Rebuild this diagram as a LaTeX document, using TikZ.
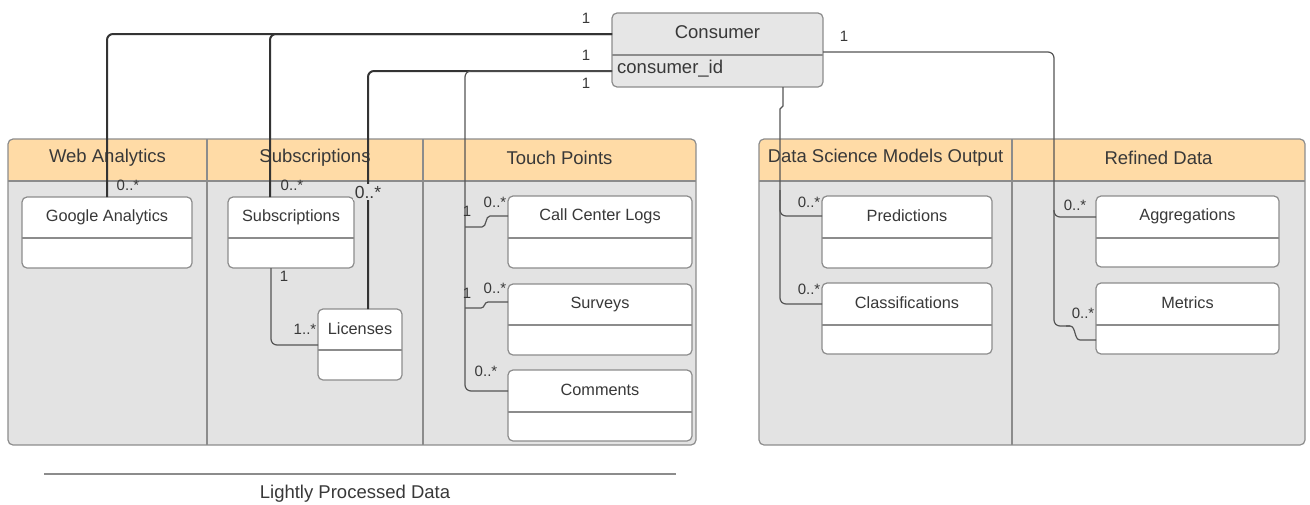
\documentclass[tikz,border=0pt]{standalone}
\usepackage{fontspec}
\setmainfont{Liberation Sans}
\usetikzlibrary{calc}
\definecolor{hdr}{HTML}{FFDBA6}
\definecolor{bodyg}{HTML}{E3E3E3}
\definecolor{cong}{HTML}{E6E6E6}
\definecolor{bord}{HTML}{8C8C8C}
\definecolor{txt}{HTML}{383838}
\definecolor{dkl}{HTML}{333333}
\definecolor{ltl}{HTML}{555555}
\newcommand\clsnode[7]{%
  \node[clsbox, minimum width=#4pt, minimum height=#5pt] (#1) at (#2,#3) {};
  \draw[draw=bord, line width=1.2] ($(#1.north west)+(0,#6)$) -- ($(#1.north east)+(0,#6)$);
  \node[ttl] (#1t) at ($(#1.north)+(0,20)$) {#7};
}
\begin{document}
\begin{tikzpicture}[x=1pt,y=-1pt,
  clsbox/.style={draw=bord, line width=1.2, fill=white, rounded corners=5, anchor=north west, inner sep=0, outer sep=0},
  ttl/.style={text=txt, font=\fontsize{16.3}{19}\selectfont, inner sep=0},
  hd/.style={text=txt, font=\fontsize{18.5}{22}\selectfont, inner sep=0},
  lbl/.style={text=txt, font=\fontsize{15}{17}\selectfont, inner sep=0},
  dk/.style={draw=dkl, line width=2, rounded corners=6},
  lt/.style={draw=ltl, line width=1.2, rounded corners=6},
]
\useasboundingbox (0,0) rectangle (1310,504);

% ---- lanes (left group)
\begin{scope}
  \clip[rounded corners=5] (8,139) rectangle (696,445);
  \fill[hdr] (8,139) rectangle (696,181);
  \fill[bodyg] (8,181) rectangle (696,445);
\end{scope}
\draw[bord, line width=1.2, rounded corners=5] (8,139) rectangle (696,445);
\draw[bord, line width=1.2] (8,181) -- (696,181) (207,139) -- (207,445) (423,139) -- (423,445);
% ---- lanes (right group)
\begin{scope}
  \clip[rounded corners=5] (759,139) rectangle (1305,445);
  \fill[hdr] (759,139) rectangle (1305,181);
  \fill[bodyg] (759,181) rectangle (1305,445);
\end{scope}
\draw[bord, line width=1.2, rounded corners=5] (759,139) rectangle (1305,445);
\draw[bord, line width=1.2] (759,181) -- (1305,181) (1012,139) -- (1012,445);

\node[hd] (hwa) at (107.5,158) {Web Analytics};
\node[hd] (hsu) at (315,158) {Subscriptions};
\node[hd] (htp) at (559.5,158) {Touch Points};
\node[hd] (hds) at (885.5,158) {Data Science Models Output};
\node[hd] (hrd) at (1158.5,158) {Refined Data};

% ---- consumer
\node[draw=bord, line width=1.2, fill=cong, rounded corners=5, anchor=north west,
      minimum width=211pt, minimum height=74pt, inner sep=0, outer sep=0] (con) at (612,13) {};
\draw[bord, line width=1.2] ($(con.north west)+(0,42)$) -- ($(con.north east)+(0,42)$);
\node[hd] (cont) at ($(con.north)+(0,19)$) {Consumer};
\node[hd, anchor=west] (conid) at (617,69) {consumer\_id};

% ---- class boxes
\clsnode{ga}{22}{197}{170}{71}{41}{Google Analytics}
\clsnode{sub}{228}{197}{126}{71}{41}{Subscriptions}
\clsnode{lic}{318}{309}{84}{71}{41}{Licenses}
\clsnode{ccl}{508}{196}{184}{72}{42}{Call Center Logs}
\clsnode{sur}{508}{284}{184}{71}{41}{Surveys}
\clsnode{com}{508}{370}{184}{71}{42}{Comments}
\clsnode{pre}{822}{196}{170}{72}{42}{Predictions}
\clsnode{cla}{822}{283}{170}{71}{42}{Classifications}
\clsnode{agg}{1096}{196}{183}{71}{42}{Aggregations}
\clsnode{met}{1096}{283}{183}{71}{42}{Metrics}

% ---- connectors
\draw[dk] ($(con.north west)+(0,21)$) -| (ga.north);
\draw[dk] ($(con.north west)+(0,21)$) -| ($(sub.north west)+(42,0)$);
\draw[dk] ($(con.north west)+(0,58)$) -| ($(lic.north)+(8,0)$);
\draw[lt] ($(con.north west)+(0,58)$) -| (465,391) -- ($(com.north west)+(0,21)$);
\draw[lt, rounded corners=0] (465,227) -- (482,227) .. controls (487,227) and (485,216) .. (490,216) -- ($(ccl.north west)+(0,20)$);
\draw[lt, rounded corners=0] (465,308) -- (481,308) .. controls (485,308) and (484,302) .. (488,302) -- ($(sur.north west)+(0,18)$);
\draw[lt] ($(sub.south west)+(43,0)$) |- ($(lic.north west)+(0,36)$);
\draw[lt, rounded corners=0] ($(con.south west)+(171,0)$) -- ++(0,19) -- ++(-3,3) -- (780,200);
\draw[lt] (780,190) |- ($(pre.north west)+(0,20)$);
\draw[lt] (780,200) |- ($(cla.north west)+(0,21)$);
\draw[lt] ($(con.north east)+(0,39)$) -| (1054,217) -- ($(agg.north west)+(0,21)$);
\draw[lt] (1054,210) |- (1070,326);
\draw[lt, rounded corners=0] (1066,326) -- (1070,326) .. controls (1076,326) and (1074,340) .. (1080,340) -- ($(met.north west)+(0,57)$);

% ---- multiplicity labels
\node[lbl] (m1) at (586,18) {1};
\node[lbl] (m2) at (586,55) {1};
\node[lbl] (m3) at (586,83) {1};
\node[lbl] (m4) at (844,36) {1};
\node[lbl] (m5) at (128,185) {0..*};
\node[lbl] (m6) at (292,185) {0..*};
\node[lbl, font=\fontsize{17.5}{19}\selectfont, fill=bodyg, inner sep=1.5] (m7) at (368,192) {0..*};
\node[lbl] (m8) at (284,276) {1};
\node[lbl] (m9) at (305,329) {1..*};
\node[lbl] (m10) at (467,211) {1};
\node[lbl] (m11) at (495,202) {0..*};
\node[lbl] (m12) at (467,293) {1};
\node[lbl] (m13) at (495,288) {0..*};
\node[lbl] (m14) at (486,371) {0..*};
\node[lbl] (m15) at (809,202) {0..*};
\node[lbl] (m16) at (809,289) {0..*};
\node[lbl] (m17) at (1075,205) {0..*};
\node[lbl] (m18) at (1083,313) {0..*};

% ---- bottom caption
\draw[draw=bord, line width=1.2] (44,474) -- (676,474);
\node[hd] (cap) at (355,494) {Lightly Processed Data};
\end{tikzpicture}
\end{document}
